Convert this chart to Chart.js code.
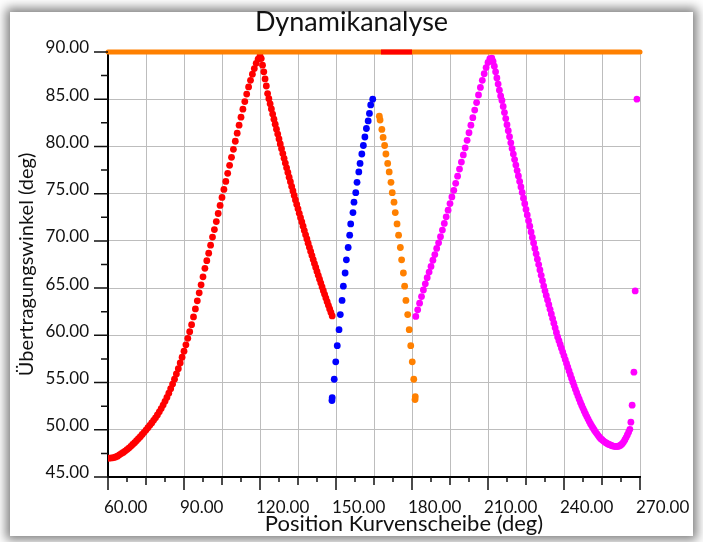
<!DOCTYPE html>
<html>
<head>
<meta charset="utf-8">
<script src="https://cdn.jsdelivr.net/npm/chart.js@4.4.1/dist/chart.umd.min.js"></script>
<style>
  body { margin: 0; width: 703px; height: 542px; background: #fff; overflow: hidden; }
  #panel { position: absolute; left: 10px; top: 12px; width: 683px; height: 524px; background: #fff;
           box-shadow: 0 0 10px 4px rgba(0,0,0,0.5); }
  #canvas { position: absolute; left: 0; top: 0; }
</style>
</head>
<body>
<div id="panel"></div>
<canvas id="canvas" width="703" height="542"></canvas>
<script>
// Achsen-Beschriftungen
const xLabelValues = [60, 90, 120, 150, 180, 210, 240, 270];
const yLabelValues = [45, 50, 55, 60, 65, 70, 75, 80, 85, 90];
const xTitle = 'Position Kurvenscheibe (deg)';

// obere Linie bei 90 deg (orange, mit rotem Stück)
const topLineX = [60, 270];
const topLineY = [90, 90];
const topRedX = [167.75, 180];
const topRedY = [90, 90];

// rote Kurve (Anstieg + Abfall)
const redX = [60, 60.75, 61.5, 62.25, 63, 63.75, 64.5, 65.25, 66, 66.75,
  67.5, 68.25, 69, 69.75, 70.5, 71.25, 72, 72.75, 73.5, 74.25,
  75, 75.75, 76.5, 77.25, 78, 78.75, 79.5, 80.25, 81, 81.75,
  82.5, 83.25, 84, 84.75, 85.5, 86.25, 87, 87.75, 88.5, 89.25,
  90, 90.75, 91.5, 92.25, 93, 93.75, 94.5, 95.25, 96, 96.75,
  97.5, 98.25, 99, 99.75, 100.5, 101.25, 102, 102.75, 103.5, 104.25,
  105, 105.75, 106.5, 107.25, 108, 108.75, 109.5, 110.25, 111, 111.75,
  112.5, 113.25, 114, 114.75, 115.5, 116.25, 117, 117.75, 118.5, 119.25,
  120,
  120.5, 121, 121.5, 122, 122.5, 123, 123.5, 124, 124.5, 125,
  125.5, 126, 126.5, 127, 127.5, 128, 128.5, 129, 129.5, 130,
  130.5, 131, 131.5, 132, 132.5, 133, 133.5, 134, 134.5, 135,
  135.5, 136, 136.5, 137, 137.5, 138, 138.5, 139, 139.5, 140,
  140.5, 141, 141.5, 142, 142.5, 143, 143.5, 144, 144.5, 145,
  145.5, 146, 146.5, 147, 147.5, 148, 148.5];
const redY = [47.00, 47.00, 47.02, 47.06, 47.12, 47.20, 47.35, 47.48, 47.60, 47.75,
  47.90, 48.06, 48.25, 48.44, 48.63, 48.84, 49.05, 49.27, 49.50, 49.73,
  49.97, 50.22, 50.47, 50.73, 51.00, 51.27, 51.57, 51.90, 52.25, 52.62,
  53.01, 53.43, 53.88, 54.35, 54.84, 55.36, 55.91, 56.47, 57.07, 57.68,
  58.32, 58.99, 59.68, 60.39, 61.13, 61.95, 62.80, 63.65, 64.50, 65.35,
  66.20, 67.10, 67.90, 68.70, 69.55, 70.40, 71.20, 72.05, 72.90, 73.75,
  74.60, 75.45, 76.30, 77.15, 78.00, 78.85, 79.70, 80.55, 81.40, 82.25,
  83.10, 83.95, 84.75, 85.55, 86.30, 87.00, 87.65, 88.25, 88.80, 89.25,
  89.60,
  89.30, 88.60, 87.90, 87.15, 86.40, 85.60, 85.05, 84.51, 83.97, 83.43,
  82.89, 82.36, 81.83, 81.31, 80.79, 80.27, 79.76, 79.25, 78.74, 78.24,
  77.74, 77.24, 76.75, 76.26, 75.77, 75.29, 74.81, 74.33, 73.86, 73.39,
  72.92, 72.46, 72.00, 71.55, 71.09, 70.64, 70.20, 69.76, 69.32, 68.88,
  68.45, 68.02, 67.60, 67.18, 66.76, 66.35, 65.94, 65.53, 65.13, 64.73,
  64.34, 63.95, 63.56, 63.18, 62.80, 62.43, 62.06];

// blaue Punkte
const blueX = [148.4, 148.5, 149.3, 149.9, 150.5, 151.2, 151.7, 152.4, 152.9, 153.6,
  154.1, 154.8, 155.4, 155.8, 156.7, 157.1, 157.8, 158.3, 159.0, 159.5,
  160.2, 160.8, 161.4, 162.0, 162.7, 163.2, 163.7, 164.5];
const blueY = [53.1, 53.4, 55.35, 57.2, 58.9, 60.6, 62.2, 63.7, 65.2, 66.6,
  68.0, 69.3, 70.6, 71.8, 73.0, 74.1, 75.1, 76.2, 77.3, 78.2,
  79.2, 80.1, 81.0, 81.9, 82.7, 83.5, 84.4, 85.0];

// orange Punkte
const orangeX = [167.1, 167.4, 168.1, 168.6, 169.2, 169.7, 170.4, 171.0, 171.7, 172.2,
  172.9, 173.4, 174.1, 174.7, 175.4, 175.9, 176.6, 177.1, 177.6, 178.3,
  178.9, 179.5, 180.1, 180.7, 181.2, 181.3];
const orangeY = [83.2, 82.8, 81.8, 80.95, 80.1, 79.2, 78.2, 77.3, 76.2, 75.1,
  74.1, 73.0, 71.8, 70.6, 69.3, 68.0, 66.6, 65.2, 63.7, 62.2,
  60.6, 58.9, 57.2, 55.35, 53.2, 53.5];

// magenta Kurve
const magentaX = [181.5, 182.25, 183, 183.75, 184.5, 185.25, 186, 186.75, 187.5, 188.25,
  189, 189.75, 190.5, 191.25, 192, 192.75, 193.5, 194.25, 195, 195.75,
  196.5, 197.25, 198, 198.75, 199.5, 200.25, 201, 201.75, 202.5, 203.25,
  204, 204.75, 205.5, 206.25, 207, 207.75, 208.5, 209.25, 210, 210.75,
  211.5,
  212, 212.5, 213, 213.5, 214, 214.5, 215, 215.5, 216, 216.5,
  217, 217.5, 218, 218.5, 219, 219.5, 220, 220.5, 221, 221.5,
  222, 222.5, 223, 223.5, 224, 224.5, 225, 225.5, 226, 226.5,
  227, 227.5, 228, 228.5, 229, 229.5, 230, 230.5, 231, 231.5,
  232, 232.5, 233, 233.5, 234, 234.5, 235, 235.5, 236, 236.5,
  237, 237.5, 238, 238.5, 239, 239.5, 240, 240.5, 241, 241.5,
  242, 242.5, 243, 243.5, 244, 244.5, 245, 245.5, 246, 246.5,
  247, 247.5, 248, 248.5, 249, 249.5, 250, 250.5, 251, 251.5,
  252, 252.5, 253, 253.5, 254, 254.5, 255, 255.5, 256, 256.5,
  257, 257.5, 258, 258.5, 259, 259.5, 260, 260.5, 261, 261.5,
  262, 262.5, 263, 263.5, 264, 264.5, 265, 265.5, 266,
  266.4, 266.9, 267.6, 268.1, 268.8];
const magentaY = [62.0, 62.7, 63.4, 64.1, 64.8, 65.45, 66.1, 66.7, 67.3, 67.95,
  68.55, 69.2, 69.8, 70.45, 71.15, 71.85, 72.55, 73.25, 73.95, 74.65,
  75.35, 76.1, 76.85, 77.6, 78.35, 79.1, 79.85, 80.65, 81.45, 82.25,
  83.05, 83.85, 84.65, 85.45, 86.25, 87.0, 87.7, 88.35, 88.9, 89.3,
  89.35,
  89.00, 88.50, 87.90, 87.25, 86.60, 85.95, 85.35, 84.87, 84.23, 83.59,
  82.95, 82.31, 81.67, 81.03, 80.38, 79.77, 79.19, 78.61, 78.03, 77.45,
  76.87, 76.29, 75.71, 75.13, 74.52, 73.93, 73.33, 72.74, 72.14, 71.55,
  70.95, 70.36, 69.78, 69.20, 68.63, 68.06, 67.49, 66.92, 66.35, 65.78,
  65.22, 64.71, 64.22, 63.73, 63.24, 62.75, 62.26, 61.77, 61.28, 60.79,
  60.30, 59.83, 59.43, 59.03, 58.63, 58.23, 57.83, 57.43, 57.03, 56.63,
  56.23, 55.83, 55.43, 55.03, 54.65, 54.28, 53.92, 53.57, 53.23, 52.90,
  52.58, 52.27, 51.97, 51.68, 51.40, 51.13, 50.87, 50.62, 50.39, 50.17,
  49.96, 49.76, 49.57, 49.39, 49.22, 49.06, 48.95, 48.83, 48.72, 48.63,
  48.55, 48.48, 48.42, 48.36, 48.30, 48.27, 48.25, 48.24, 48.24, 48.26,
  48.31, 48.40, 48.53, 48.70, 48.92, 49.17, 49.45, 49.75, 50.05,
  50.8, 52.6, 56.1, 64.7, 85.0];

// Hilfsfunktion: x/y Listen -> Punkte
function pts(xs, ys) {
  return xs.map((x, i) => ({x: x, y: ys[i]}));
}

function dots(data, color) {
  return {
    data: data,
    pointRadius: 3.4,
    pointBorderWidth: 0,
    pointBackgroundColor: color,
    backgroundColor: color,
    borderColor: color,
    showLine: false
  };
}

//Kleine und grosse Teilstriche an den Achsen + Titel der x-Achse
const tickMarks = {
  id: 'tickMarks',
  afterDraw(chart) {
    const ctx = chart.ctx;
    const area = chart.chartArea;
    const xs = chart.scales.x;
    const ys = chart.scales.y;
    ctx.save();
    ctx.strokeStyle = '#111';
    ctx.lineWidth = 1.5;
    ctx.beginPath();
    xs.ticks.forEach(t => {
      const px = xs.getPixelForValue(t.value);
      const len = t.value % 30 === 0 ? 13 : (t.value % 15 === 0 ? 8 : 5);
      ctx.moveTo(px, area.bottom);
      ctx.lineTo(px, area.bottom + len);
    });
    ys.ticks.forEach(t => {
      const py = ys.getPixelForValue(t.value);
      const len = t.value % 5 === 0 ? 14 : 7;
      ctx.moveTo(area.left - len, py);
      ctx.lineTo(area.left, py);
    });
    ctx.stroke();
    // Achsentitel unten, etwas nach rechts versetzt wie im Original
    ctx.fillStyle = '#111';
    ctx.font = '22px Lato';
    ctx.textAlign = 'center';
    ctx.textBaseline = 'middle';
    ctx.fillText(xTitle, (area.left + area.right) / 2 + 30, xs.bottom - 13);
    ctx.restore();
  }
};

Chart.defaults.font.family = 'Lato';
Chart.defaults.color = '#111';

var ctx = document.getElementById('canvas').getContext('2d');
var chart = new Chart(ctx, {
  type: 'scatter',
  data: {
    datasets: [
      {
        type: 'line', data: pts(topRedX, topRedY), borderColor: '#ff0000', borderWidth: 5,
        borderCapStyle: 'butt', pointRadius: 0, clip: false
      },
      {
        type: 'line', data: pts(topLineX, topLineY), borderColor: '#ff8000', borderWidth: 5,
        borderCapStyle: 'round', pointRadius: 0, clip: false
      },
      dots(pts(redX, redY), '#ff0000'),
      dots(pts(blueX, blueY), '#0000ff'),
      dots(pts(orangeX, orangeY), '#ff8000'),
      dots(pts(magentaX, magentaY), '#ff00ff')
    ]
  },
  options: {
    responsive: false,
    animation: false,
    devicePixelRatio: 1,
    layout: { padding: { left: 0, right: 0, top: 0, bottom: 5 } },
    plugins: {
      legend: { display: false },
      tooltip: { enabled: false },
      title: {
        display: true,
        text: 'Dynamikanalyse',
        color: '#111',
        font: { size: 27, weight: 'normal' },
        padding: { top: 5.8, bottom: 13.8 }
      }
    },
    scales: {
      x: {
        type: 'linear',
        min: 60,
        max: 270,
        afterFit(scale) {
          scale.height = 60;
          scale.paddingLeft = 0;
          scale.paddingRight = 63;
        },
        border: { display: true, color: '#000', width: 2 },
        grid: {
          drawTicks: false,
          color: (c) => (c.tick && c.tick.value % 15 === 0) ? '#bdbdbd' : 'rgba(0,0,0,0)'
        },
        ticks: {
          stepSize: 7.5,
          autoSkip: false,
          maxRotation: 0,
          align: 'start',
          labelOffset: -4,
          padding: 20,
          font: { size: 17 },
          callback: (v) => xLabelValues.includes(v) ? v.toFixed(2) : ''
        }
      },
      y: {
        type: 'linear',
        min: 45,
        max: 90,
        afterFit(scale) { scale.width = 108; },
        border: { display: true, color: '#000', width: 2 },
        grid: {
          drawTicks: false,
          color: (c) => (c.tick && c.tick.value % 5 === 0) ? '#bdbdbd' : 'rgba(0,0,0,0)'
        },
        ticks: {
          stepSize: 2.5,
          autoSkip: false,
          labelOffset: -4,
          padding: 19,
          font: { size: 17 },
          callback: (v) => yLabelValues.includes(v) ? v.toFixed(2) : ''
        },
        title: {
          display: true,
          text: 'Übertragungswinkel (deg)',
          font: { size: 20 },
          padding: { top: 15, bottom: 0 }
        }
      }
    }
  },
  plugins: [tickMarks]
});
</script>
</body>
</html>
